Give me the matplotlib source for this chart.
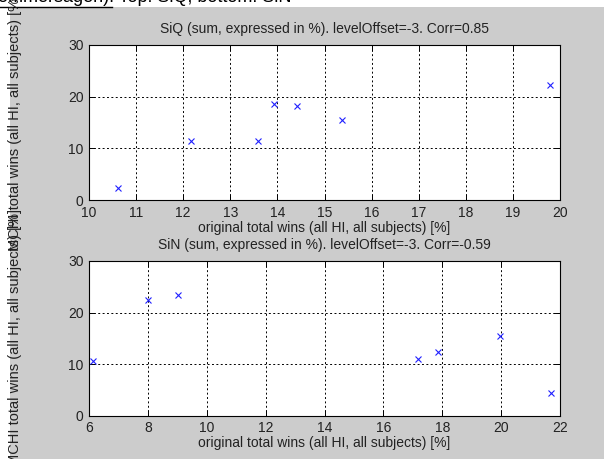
import numpy as np
import matplotlib
matplotlib.use("Agg")
from matplotlib import pyplot as plt
from matplotlib.patches import Rectangle
from matplotlib.lines import Line2D

plt.rcParams['font.family'] = ['Liberation Sans', 'DejaVu Sans']

# SiQ (top panel)
siq_orig = [10.61, 12.16, 13.59, 13.93, 14.42, 15.38, 19.78]
siq_mchi = [2.3, 11.4, 11.4, 18.6, 18.1, 15.4, 22.3]
# SiN (bottom panel)
sin_orig = [6.14, 7.99, 9.02, 17.16, 17.86, 19.95, 21.71]
sin_mchi = [10.6, 22.35, 23.4, 11.0, 12.35, 15.4, 4.3]

titles = ["SiQ (sum, expressed in %). levelOffset=-3. Corr=0.85",
          "SiN (sum, expressed in %). levelOffset=-3. Corr=-0.59"]
xlabel = "original total wins (all HI, all subjects) [%]"
ylabel = "MCHI total wins (all HI, all subjects) [%]"
top_xticks = np.arange(10, 21, 1)
bot_xticks = np.arange(6, 23, 2)
yticks = [0, 10, 20, 30]

W, H = 604, 459
txt = '#222222'
fig = plt.figure(figsize=(W / 100, H / 100), dpi=100, facecolor='white')

# gray matlab figure background (screenshot cropped)
fig.patches.append(Rectangle((10 / W, 0), 1, (H - 7) / H, transform=fig.transFigure,
                             facecolor='#cccccc', edgecolor='none', zorder=-5))
fig.text(-2 / W, 1 + 11 / H, "ommersagen). Top: SiQ, bottom: SiN", fontsize=13,
         va='top', ha='left', color='black', zorder=-6)
fig.lines.append(Line2D([0, 112 / W], [1 - 6.5 / H, 1 - 6.5 / H], transform=fig.transFigure,
                        color='black', lw=1, zorder=-4))


def px_rect(left, top, right, bottom):
    return [left / W, (H - bottom) / H, (right - left) / W, (bottom - top) / H]


def style(ax, xs, ys, xticks, xlim, title, label_y):
    ax.set_facecolor('white')
    ax.plot(xs, ys, 'x', color='#2020ff', markersize=5, mew=0.8, zorder=3)
    ax.set_xlim(xlim)
    ax.set_ylim(0, 30)
    ax.set_xticks(xticks)
    ax.set_yticks(yticks)
    ax.grid(True, color='black', linestyle=(0, (2, 2.5)), linewidth=0.7)
    ax.tick_params(direction='in', length=4, width=0.7, top=True, right=True,
                   labelsize=10, pad=4, labelcolor=txt)
    for s in ax.spines.values():
        s.set_linewidth(0.8)
    ax.set_title(title, fontsize=10, pad=9, color=txt)
    ax.set_xlabel(xlabel, fontsize=10, labelpad=1, color=txt)
    fig.text(15 / W, label_y, ylabel, rotation=90, fontsize=10.5,
             ha='center', va='center', color=txt)


ax1 = fig.add_axes(px_rect(89, 45, 560, 200))
style(ax1, siq_orig, siq_mchi, top_xticks, (10, 20), titles[0], (H - 122.5) / H)
ax2 = fig.add_axes(px_rect(89, 261, 560, 415.5))
style(ax2, sin_orig, sin_mchi, bot_xticks, (6, 22), titles[1], (H - 338) / H)

fig.savefig("out.png", dpi=100, facecolor='white')
